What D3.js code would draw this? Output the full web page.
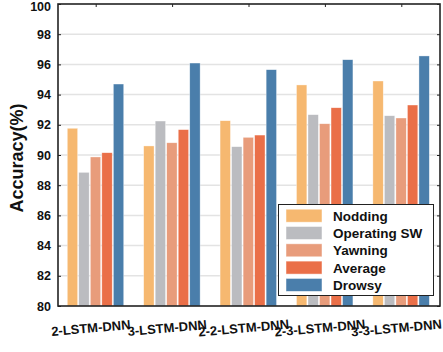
<!DOCTYPE html>
<html>
<head>
<meta charset="utf-8">
<script src="https://cdn.jsdelivr.net/npm/d3@7"></script>
<style>
  html, body { margin: 0; padding: 0; background: #fff; }
  svg { display: block; font-family: "Liberation Sans", Arial, sans-serif; }
</style>
</head>
<body>
<svg id="chart" width="443" height="352"></svg>
<script>
// Model configurations on the x axis
const models = ["2-LSTM-DNN", "3-LSTM-DNN", "2-2-LSTM-DNN", "2-3-LSTM-DNN", "3-3-LSTM-DNN"];
// Series names (legend order)
const seriesNames = ["Nodding", "Operating SW", "Yawning", "Average", "Drowsy"];
const seriesColors = ["#F6B870", "#BBBCC0", "#E89C7B", "#EA6F48", "#4A7EAB"];
// Accuracy (%) per series, one value per model
const nodding     = [91.77, 90.60, 92.27, 94.64, 94.90];
const operatingSW = [88.85, 92.25, 90.55, 92.67, 92.60];
const yawning     = [89.87, 90.81, 91.17, 92.07, 92.45];
const average     = [90.15, 91.68, 91.32, 93.13, 93.31];
const drowsy      = [94.70, 96.09, 95.65, 96.31, 96.56];
// Y axis ticks
const yTicks = [80, 82, 84, 86, 88, 90, 92, 94, 96, 98, 100];

const seriesValues = [nodding, operatingSW, yawning, average, drowsy];

const svg = d3.select("#chart");
const plot = { left: 58, right: 440, top: 4, bottom: 306 };

const x = d3.scaleBand().domain(models).range([plot.left, plot.right]).padding(0);
const xs = d3.scaleBand().domain(seriesNames)
  .range([8.7, x.bandwidth() - 10.1]).paddingInner(0.1).paddingOuter(0.05);
const y = d3.scaleLinear().domain([80, 100]).range([plot.bottom, plot.top]);

// Horizontal grid lines
svg.append("g").selectAll("line")
  .data(yTicks.filter(t => t > 80 && t < 100))
  .join("line")
  .attr("x1", plot.left).attr("x2", plot.right)
  .attr("y1", d => y(d)).attr("y2", d => y(d))
  .attr("stroke", "#e3e3e3").attr("stroke-width", 1.5);

// Bars
const groups = svg.append("g").selectAll("g")
  .data(models)
  .join("g")
  .attr("transform", d => `translate(${x(d)},0)`);

groups.selectAll("rect")
  .data((m, mi) => seriesNames.map((s, si) => ({ s, si, v: seriesValues[si][mi] })))
  .join("rect")
  .attr("x", d => xs(d.s))
  .attr("width", xs.bandwidth())
  .attr("y", d => y(d.v))
  .attr("height", d => y(80) - y(d.v))
  .attr("fill", d => seriesColors[d.si])
  .attr("stroke", "#ffffff")
  .attr("stroke-opacity", 0.6)
  .attr("stroke-width", 0.6);

// Axes (ticks pointing inward)
const tickLen = 3;
svg.append("g")
  .attr("transform", `translate(${plot.left},0)`)
  .call(d3.axisLeft(y).tickValues(yTicks).tickSize(-tickLen).tickPadding(7))
  .call(g => g.select(".domain").remove())
  .call(g => g.selectAll("text")
    .attr("font-size", "12.5px").attr("font-weight", "bold").attr("fill", "#111"))
  // keep the top label inside the canvas
  .call(g => g.selectAll(".tick").filter(d => d === 100).select("text").attr("dy", "0.55em"))
  .call(g => g.selectAll("line").attr("stroke", "#222"));

svg.append("g")
  .attr("transform", `translate(${plot.right},0)`)
  .call(d3.axisRight(y).tickValues(yTicks).tickSize(-tickLen).tickFormat(""))
  .call(g => g.select(".domain").remove())
  .call(g => g.selectAll("line").attr("stroke", "#222"));

svg.append("g")
  .attr("transform", `translate(0,${plot.top})`)
  .call(d3.axisTop(x).tickSize(-tickLen).tickFormat(""))
  .call(g => g.select(".domain").remove())
  .call(g => g.selectAll("line").attr("stroke", "#222"));

// X tick labels, slightly rotated
svg.append("g").selectAll("text")
  .data(models)
  .join("text")
  .attr("transform", d => `translate(${x(d) + x.bandwidth() / 2 - 5},332.5) rotate(-5)`)
  .attr("text-anchor", "middle")
  .attr("font-size", "13px")
  .attr("font-weight", "bold")
  .attr("fill", "#111")
  .text(d => d);

// Frame
svg.append("rect")
  .attr("x", plot.left).attr("y", plot.top)
  .attr("width", plot.right - plot.left).attr("height", plot.bottom - plot.top)
  .attr("fill", "none").attr("stroke", "#222").attr("stroke-width", 1.6);

// Y axis title
svg.append("text")
  .attr("transform", `translate(23,${(plot.top + plot.bottom) / 2 + 3}) rotate(-90)`)
  .attr("text-anchor", "middle")
  .attr("font-size", "18px")
  .attr("font-weight", "bold")
  .attr("fill", "#111")
  .text("Accuracy(%)");

// Legend
const legend = svg.append("g").attr("transform", "translate(278.5,204.5)");
legend.append("rect")
  .attr("width", 155).attr("height", 91)
  .attr("fill", "#fff").attr("stroke", "#222").attr("stroke-width", 1);
const rows = legend.selectAll("g.row")
  .data(seriesNames)
  .join("g")
  .attr("class", "row")
  .attr("transform", (d, i) => `translate(0,${11.2 + i * 17.3})`);
rows.append("rect")
  .attr("x", 7.5).attr("y", -6.5)
  .attr("width", 36).attr("height", 13)
  .attr("fill", (d, i) => seriesColors[i])
  .attr("stroke", "#fff").attr("stroke-opacity", 0.6).attr("stroke-width", 0.8);
rows.append("text")
  .attr("x", 54.5).attr("y", 5)
  .attr("font-size", "13.5px")
  .attr("font-weight", "bold")
  .attr("fill", "#111")
  .text(d => d);
</script>
</body>
</html>
